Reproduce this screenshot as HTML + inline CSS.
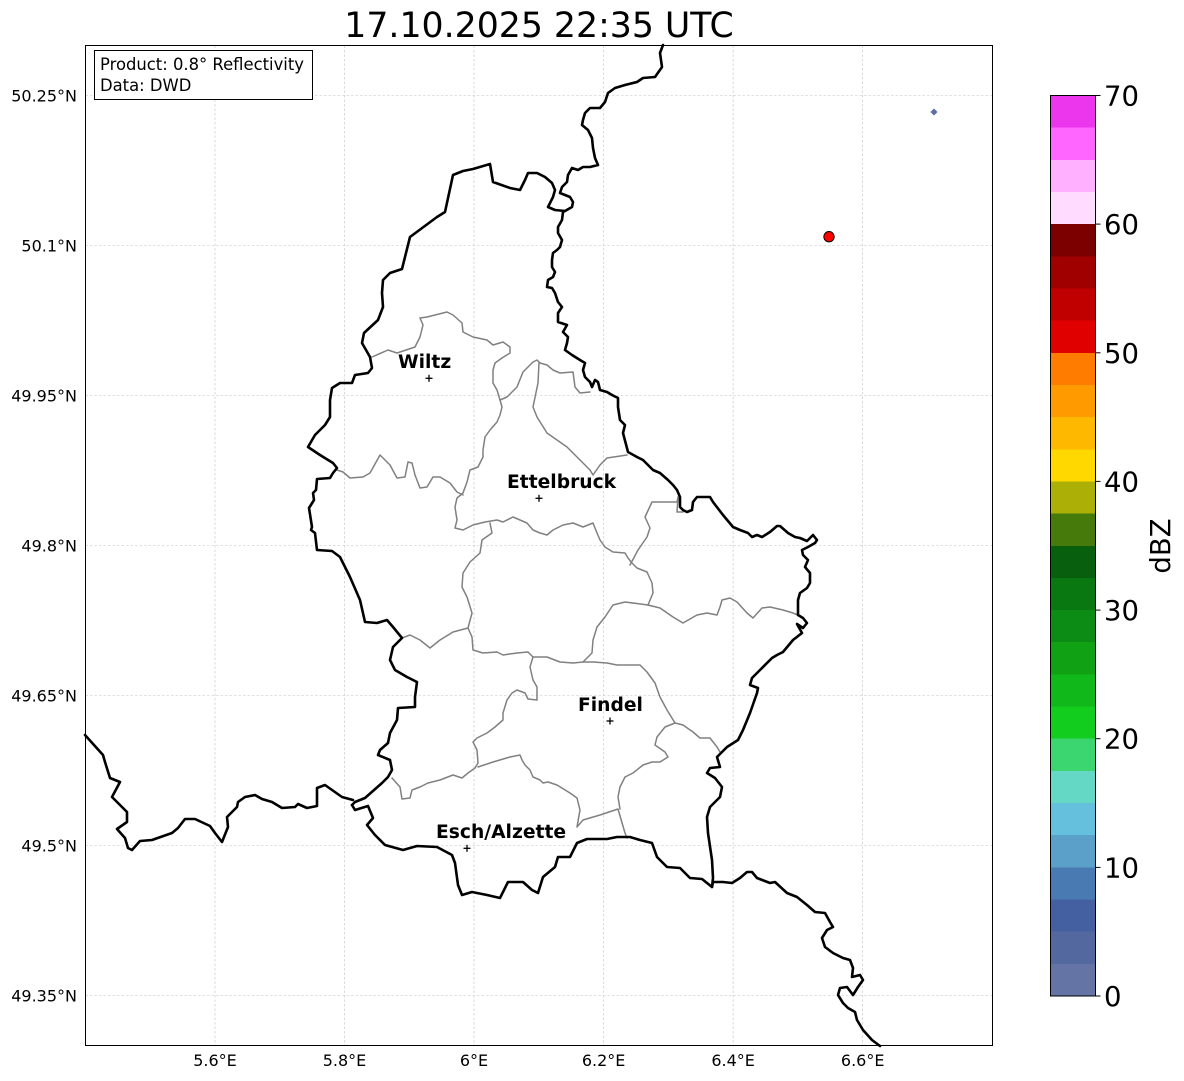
<!DOCTYPE html>
<html>
<head>
<meta charset="utf-8">
<style>
html,body{margin:0;padding:0;background:#fff;}
svg{display:block;}
text{font-family:"DejaVu Sans","Liberation Sans",sans-serif;}
</style>
</head>
<body>
<svg width="1184" height="1081" viewBox="0 0 1184 1081" xmlns="http://www.w3.org/2000/svg">
<rect x="0" y="0" width="1184" height="1081" fill="#fff"/>

<!-- Title -->
<text x="539" y="37" font-size="34.7" text-anchor="middle" fill="#000">17.10.2025 22:35 UTC</text>

<!-- Grid lines -->
<g stroke="#c2c2c2" stroke-width="0.6" stroke-dasharray="2.5,2" fill="none">
  <line x1="215" y1="45.5" x2="215" y2="1045.5"/>
  <line x1="344.5" y1="45.5" x2="344.5" y2="1045.5"/>
  <line x1="474" y1="45.5" x2="474" y2="1045.5"/>
  <line x1="603.6" y1="45.5" x2="603.6" y2="1045.5"/>
  <line x1="733.1" y1="45.5" x2="733.1" y2="1045.5"/>
  <line x1="862.7" y1="45.5" x2="862.7" y2="1045.5"/>
  <line x1="85.5" y1="95.5" x2="992.5" y2="95.5"/>
  <line x1="85.5" y1="245.5" x2="992.5" y2="245.5"/>
  <line x1="85.5" y1="395.5" x2="992.5" y2="395.5"/>
  <line x1="85.5" y1="545.5" x2="992.5" y2="545.5"/>
  <line x1="85.5" y1="695.5" x2="992.5" y2="695.5"/>
  <line x1="85.5" y1="845.5" x2="992.5" y2="845.5"/>
  <line x1="85.5" y1="995.5" x2="992.5" y2="995.5"/>
</g>

<!-- Canton boundaries (gray) -->
<g stroke="#808080" stroke-width="1.5" fill="none" stroke-linejoin="round" stroke-linecap="round">
  <path d="M372,357 L388,350 L397,353 L415,347 L420,337 L423,325 L420,318 L427,317 L447,312 L453,315 L462,323 L463,332 L473,337 L487,340 L493,345 L503,342 L510,347 L510,353 L502,358 L495,363 L493,370 L493,383 L497,390 L500,400 L502,407 L500,415 L497,422 L490,430 L485,437 L483,450 L483,457 L478,467 L470,470 L467,482 L463,493 L457,498 L455,507 L457,520 L455,528 L463,530 L473,525 L485,522 L497,520 L503,522 L513,517 L520,520 L527,523 L533,530 L540,533 L547,535 L553,530 L563,525 L573,523 L583,527 L593,523 L597,533 L600,540 L605,547 L613,552 L625,553 L628,558 L632,563 L637,568 L647,572 L652,583 L653,593 L648,605"/>
  <path d="M337,470 L343,472 L350,478 L363,477 L370,473 L380,455 L390,465 L397,478 L405,477 L408,462 L412,463 L415,475 L420,488 L427,487 L433,477 L440,477 L450,483 L457,492 L463,495"/>
  <path d="M500,400 L507,397 L517,387 L523,372 L533,362 L537,360 L540,363 L547,365 L553,370 L560,373 L573,372 L575,387 L580,393 L590,392"/>
  <path d="M539,363 L538,383 L533,407 L537,417 L547,433 L557,440 L567,447 L577,457 L580,460 L590,470 L593,475 L600,465 L607,458 L627,455"/>
  <path d="M683,512 L677,512 L678,497 L677,502 L652,502 L645,517 L650,528 L647,537 L638,550 L630,565"/>
  <path d="M648,605 L660,608 L673,617 L683,623 L697,615 L707,613 L717,615 L720,607 L722,600 L730,598 L737,602 L747,613 L753,618 L762,608 L770,607 L783,610 L793,613 L800,616"/>
  <path d="M648,605 L625,602 L613,605 L605,617 L597,627 L593,640 L592,653 L583,662"/>
  <path d="M402,638 L410,635 L420,640 L430,648 L440,640 L453,632 L468,628 L472,637 L473,650 L483,653 L497,652 L503,655 L517,653 L528,652 L533,657 L547,657 L560,662 L573,663 L583,662 L593,662 L607,663 L617,665 L640,665 L647,672 L655,683 L660,697 L667,710 L675,723 L683,725 L693,732 L700,738 L710,738 L717,747 L720,752"/>
  <path d="M468,628 L472,613 L467,597 L462,587 L463,573 L470,562 L480,553 L482,540 L492,533 L490,523"/>
  <path d="M533,657 L530,667 L533,680 L537,687 L537,700 L528,699 L525,693 L517,690 L512,693 L507,700 L503,713 L503,720 L495,727 L487,733 L477,738 L473,742 L477,750 L478,763 L475,768 L468,773 L462,778 L453,775 L440,780 L428,783 L420,787 L412,790 L410,798 L402,799 L400,787 L392,778"/>
  <path d="M478,767 L493,762 L510,757 L520,755 L522,760 L525,765 L530,770 L533,777 L540,780 L543,783 L548,782 L557,785 L570,793 L577,798 L580,810 L577,827 L583,820 L600,815 L618,809 L625,833 L627,838"/>
  <path d="M675,723 L665,727 L657,737 L655,745 L665,752 L668,757 L660,762 L652,762 L643,765 L633,773 L625,777 L620,787 L618,797 L620,809"/>
</g>

<!-- Country borders (black) -->
<g stroke="#000" stroke-width="2.6" fill="none" stroke-linejoin="round" stroke-linecap="round">
  <path d="M663,45 L660,53 L662,67 L655,77 L643,78 L637,82 L625,85 L615,88 L608,93 L605,102 L600,108 L590,108 L585,113 L583,120 L582,125 L588,130 L592,138 L593,148 L595,158 L598,165 L590,167 L583,167 L578,170 L572,168 L568,175 L567,182 L562,187 L560,193 L565,195 L570,197 L573,202 L572,207 L565,211 L563,212 L562,220 L558,227 L558,233 L562,240 L560,247 L557,250 L553,253 L552,260 L552,267 L555,272 L553,277 L548,280 L547,287 L552,288 L555,293 L558,302 L562,307 L558,313 L558,322 L567,325 L563,332 L568,337 L567,343 L565,350 L572,355 L580,360 L585,363 L583,370 L585,377 L590,382 L592,387 L595,380 L598,382 L600,390 L607,392 L612,395 L618,398 L618,407 L620,420 L625,425 L623,433 L628,452 L637,457 L643,460 L653,470 L660,473 L668,480 L673,485 L677,490 L680,497 L680,507 L683,510 L687,512 L692,510 L693,502 L697,497 L710,497 L713,502 L723,515 L733,527 L740,530 L748,533 L752,537 L757,535 L762,537 L770,532 L777,526 L780,526 L788,533 L795,537 L800,538 L807,541 L813,535 L817,540 L815,543 L808,547 L802,550 L803,555 L808,560 L805,567 L810,573 L810,583 L807,588 L800,593 L798,600 L798,615 L803,618 L807,623 L803,628 L797,624 L802,633 L793,640 L783,652 L777,655 L772,658 L760,670 L752,678 L750,685 L758,688 L757,693 L750,713 L743,730 L738,740 L727,747 L717,757 L720,767 L710,768 L707,773 L715,778 L722,787 L720,797 L710,807 L707,817 L708,833 L712,860 L713,878 L712,887 L713,882 L723,882 L732,883 L740,878 L747,872 L752,872 L757,878 L770,883 L775,882 L787,893 L797,897 L807,905 L815,912 L825,913 L830,922 L833,927 L827,930 L822,938 L825,947 L833,953 L843,958 L850,960 L853,968 L852,977 L860,975 L863,980 L858,987 L853,995 L847,987 L840,988 L838,995 L843,1003 L848,1008 L855,1012 L857,1020 L863,1030 L872,1040 L880,1046"/>
  <path d="M565,211 L555,210 L548,207 L553,197 L555,190 L552,183 L545,177 L537,173 L528,173 L525,180 L520,190 L510,188 L493,182 L490,164 L473,169 L463,171 L453,175 L445,212 L437,217 L410,237 L402,269 L390,273 L383,280 L382,293 L383,307 L378,320 L364,333 L362,343 L370,357 L372,368 L368,373 L355,375 L352,383 L340,383 L332,388 L330,400 L330,417 L325,425 L315,435 L308,447 L320,455 L333,463 L337,468 L333,473 L330,478 L317,479 L316,490 L313,493 L314,500 L309,508 L312,527 L311,530 L315,533 L317,550 L332,551 L340,557 L350,577 L360,600 L365,622 L377,623 L387,620 L393,627 L402,638 L393,647 L390,660 L395,670 L407,677 L417,682 L415,697 L415,707 L398,708 L397,720 L390,733 L388,743 L380,750 L378,755 L390,760 L392,770 L388,777 L382,783 L365,798 L355,802 L352,805"/>
  <path d="M85,735 L103,755 L105,762 L110,778 L120,782 L112,797 L127,812 L127,822 L117,829 L125,838 L128,848 L132,850 L140,841 L152,840 L172,833 L178,828 L185,819 L195,819 L210,826 L215,833 L222,842 L228,827 L227,817 L237,807 L238,802 L245,797 L255,795 L262,799 L272,802 L282,808 L295,807 L298,804 L307,808 L317,806 L317,788 L325,785 L342,797 L353,800"/>
  <path d="M352,805 L355,810 L368,806 L373,818 L367,825 L375,835 L385,845 L403,850 L417,846 L437,847 L452,855 L455,863 L458,885 L462,895 L472,892 L487,895 L500,898 L508,882 L523,882 L532,890 L538,893 L543,877 L555,867 L558,857 L570,857 L575,847 L577,843 L587,839 L607,839 L617,837 L630,837 L640,840 L652,843 L657,857 L667,867 L680,868 L690,878 L702,879 L712,887"/>
</g>

<!-- City markers -->
<g stroke="#000" stroke-width="1.3">
  <line x1="425.5" y1="378.3" x2="432.5" y2="378.3"/><line x1="429" y1="374.8" x2="429" y2="381.8"/>
  <line x1="535.5" y1="498.3" x2="542.5" y2="498.3"/><line x1="539" y1="494.8" x2="539" y2="501.8"/>
  <line x1="606.5" y1="721" x2="613.5" y2="721"/><line x1="610" y1="717.5" x2="610" y2="724.5"/>
  <line x1="463.5" y1="848.3" x2="470.5" y2="848.3"/><line x1="467" y1="844.8" x2="467" y2="851.8"/>
</g>
<g font-size="18.7" font-weight="bold" fill="#000">
  <text x="398" y="368">Wiltz</text>
  <text x="507" y="488">Ettelbruck</text>
  <text x="578" y="711">Findel</text>
  <text x="436" y="838">Esch/Alzette</text>
</g>

<!-- Radar dots -->
<circle cx="829" cy="236.7" r="5.2" fill="#ff0000" stroke="#000" stroke-width="0.9"/>
<path d="M934,108.5 L937.5,112 L934,115.5 L930.5,112 Z" fill="#5a6ea6"/>

<!-- Axes frame -->
<rect x="85.5" y="45.5" width="907" height="1000" fill="none" stroke="#000" stroke-width="1"/>

<!-- Info box -->
<rect x="94.5" y="50.5" width="218" height="49" fill="#fff" stroke="#000" stroke-width="1"/>
<text x="100" y="70" font-size="16.4" fill="#000">Product: 0.8° Reflectivity</text>
<text x="100" y="91" font-size="16.4" fill="#000">Data: DWD</text>

<!-- Lat labels -->
<g font-size="16" fill="#000" text-anchor="end">
  <text x="77" y="101.3">50.25°N</text>
  <text x="77" y="251.3">50.1°N</text>
  <text x="77" y="401.3">49.95°N</text>
  <text x="77" y="551.3">49.8°N</text>
  <text x="77" y="701.3">49.65°N</text>
  <text x="77" y="851.3">49.5°N</text>
  <text x="77" y="1001.3">49.35°N</text>
</g>
<!-- Lon labels -->
<g font-size="16" fill="#000" text-anchor="middle">
  <text x="215" y="1066">5.6°E</text>
  <text x="344.5" y="1066">5.8°E</text>
  <text x="474" y="1066">6°E</text>
  <text x="603.6" y="1066">6.2°E</text>
  <text x="733.1" y="1066">6.4°E</text>
  <text x="862.7" y="1066">6.6°E</text>
</g>

<!-- Colorbar -->
<g shape-rendering="crispEdges">
  <rect x="1050.5" y="963.84" width="45" height="32.16" fill="#6474a4"/>
  <rect x="1050.5" y="931.68" width="45" height="32.16" fill="#52689e"/>
  <rect x="1050.5" y="899.52" width="45" height="32.16" fill="#4560a0"/>
  <rect x="1050.5" y="867.36" width="45" height="32.16" fill="#4a7ab2"/>
  <rect x="1050.5" y="835.2" width="45" height="32.16" fill="#5aa0c8"/>
  <rect x="1050.5" y="803.04" width="45" height="32.16" fill="#64c0dc"/>
  <rect x="1050.5" y="770.88" width="45" height="32.16" fill="#64d8c4"/>
  <rect x="1050.5" y="738.72" width="45" height="32.16" fill="#3cd670"/>
  <rect x="1050.5" y="706.56" width="45" height="32.16" fill="#12cc1e"/>
  <rect x="1050.5" y="674.4" width="45" height="32.16" fill="#10b81a"/>
  <rect x="1050.5" y="642.24" width="45" height="32.16" fill="#10a214"/>
  <rect x="1050.5" y="610.08" width="45" height="32.16" fill="#0c8c14"/>
  <rect x="1050.5" y="577.92" width="45" height="32.16" fill="#0a7810"/>
  <rect x="1050.5" y="545.76" width="45" height="32.16" fill="#08600e"/>
  <rect x="1050.5" y="513.6" width="45" height="32.16" fill="#467a0a"/>
  <rect x="1050.5" y="481.44" width="45" height="32.16" fill="#acb006"/>
  <rect x="1050.5" y="449.28" width="45" height="32.16" fill="#ffd800"/>
  <rect x="1050.5" y="417.12" width="45" height="32.16" fill="#ffb800"/>
  <rect x="1050.5" y="384.96" width="45" height="32.16" fill="#ff9a00"/>
  <rect x="1050.5" y="352.8" width="45" height="32.16" fill="#ff7c00"/>
  <rect x="1050.5" y="320.64" width="45" height="32.16" fill="#e00000"/>
  <rect x="1050.5" y="288.48" width="45" height="32.16" fill="#c00000"/>
  <rect x="1050.5" y="256.32" width="45" height="32.16" fill="#a00000"/>
  <rect x="1050.5" y="224.16" width="45" height="32.16" fill="#7c0000"/>
  <rect x="1050.5" y="192" width="45" height="32.16" fill="#ffdcff"/>
  <rect x="1050.5" y="159.84" width="45" height="32.16" fill="#ffb0ff"/>
  <rect x="1050.5" y="127.68" width="45" height="32.16" fill="#ff66ff"/>
  <rect x="1050.5" y="95.5" width="45" height="32.18" fill="#ec36ee"/>
</g>
<rect x="1050.5" y="95.5" width="45" height="900.5" fill="none" stroke="#000" stroke-width="1"/>
<g stroke="#000" stroke-width="1">
  <line x1="1095.5" y1="95.5" x2="1100.5" y2="95.5"/>
  <line x1="1095.5" y1="224.1" x2="1100.5" y2="224.1"/>
  <line x1="1095.5" y1="352.8" x2="1100.5" y2="352.8"/>
  <line x1="1095.5" y1="481.4" x2="1100.5" y2="481.4"/>
  <line x1="1095.5" y1="610.1" x2="1100.5" y2="610.1"/>
  <line x1="1095.5" y1="738.7" x2="1100.5" y2="738.7"/>
  <line x1="1095.5" y1="867.4" x2="1100.5" y2="867.4"/>
  <line x1="1095.5" y1="996" x2="1100.5" y2="996"/>
</g>
<g font-size="27.5" fill="#000">
  <text x="1104" y="105.5">70</text>
  <text x="1104" y="234.1">60</text>
  <text x="1104" y="362.8">50</text>
  <text x="1104" y="491.4">40</text>
  <text x="1104" y="620.1">30</text>
  <text x="1104" y="748.7">20</text>
  <text x="1104" y="877.4">10</text>
  <text x="1104" y="1006">0</text>
</g>
<text x="0" y="0" font-size="27.5" fill="#000" text-anchor="middle" transform="translate(1170,546) rotate(-90)">dBZ</text>
</svg>
</body>
</html>
